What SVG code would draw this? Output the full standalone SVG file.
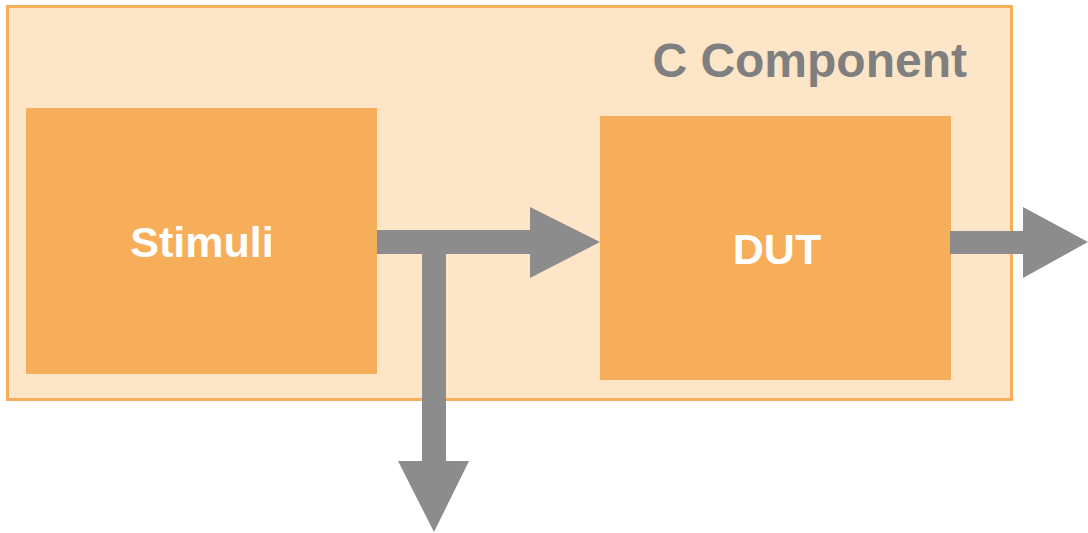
<svg xmlns="http://www.w3.org/2000/svg" width="1088" height="533" viewBox="0 0 1088 533">
<style>
.box{fill:#F7AE5A}
.lbl{font-family:"Liberation Sans",Arial,sans-serif;font-weight:bold;fill:#FFFFFF;font-size:43px;text-anchor:middle}
.title{font-family:"Liberation Sans",Arial,sans-serif;font-weight:bold;fill:#7F7F7F;font-size:48px;text-anchor:end}
.arr{fill:#8C8C8C}
</style>
<rect width="1088" height="533" fill="#FFFFFF"/>
<g id="c-component">
<rect x="7.5" y="6.5" width="1004" height="393" fill="#FDE5C7" stroke="#F7AE5A" stroke-width="3"/>
<text class="title" x="967" y="77">C Component</text>
</g>
<g id="stimuli">
<rect class="box" x="26" y="108" width="351" height="266"/>
<text class="lbl" x="202" y="257">Stimuli</text>
</g>
<g id="dut">
<rect class="box" x="600" y="116" width="351" height="264"/>
<text class="lbl" x="777" y="264">DUT</text>
</g>
<g id="connectors">
<polygon class="arr" points="377,230 530,230 530,207 600,242 530,278 530,254 446,254 446,461 469,461 434,532 398,461 422,461 422,254 377,254"/>
<polygon class="arr" points="950,231 1023,231 1023,207 1088,242 1023,278 1023,254 950,254"/>
</g>
</svg>
